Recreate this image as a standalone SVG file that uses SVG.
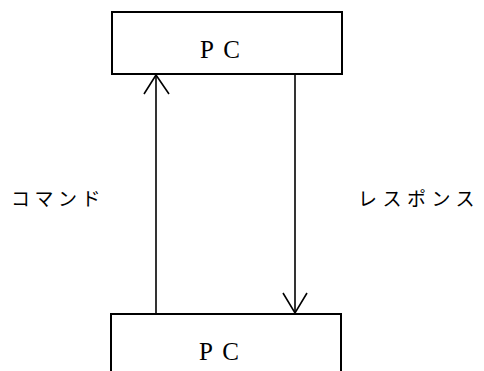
<svg xmlns="http://www.w3.org/2000/svg" width="484" height="371" viewBox="0 0 484 371">
<style>
.box{fill:#fff;stroke:#000;stroke-width:2}
.pc{font-family:"Liberation Serif",serif;font-size:25px;letter-spacing:2px;fill:#000}
.lbl{font-family:"Noto Sans CJK JP",sans-serif;font-size:19px;letter-spacing:4.5px;fill:#000}
.ln{stroke:#000;stroke-width:1.6;fill:none}
</style>
<rect width="484" height="371" fill="#fff"/>
<g id="pc-top">
<rect class="box" x="112" y="12" width="230" height="62"/>
<text class="pc" x="221" y="58" text-anchor="middle">P  C</text>
</g>
<g id="pc-bottom">
<rect class="box" x="111" y="314" width="230" height="70"/>
<text class="pc" x="220" y="360" text-anchor="middle">P  C</text>
</g>
<g id="connectors">
<path class="ln" d="M156 314 V75"/>
<path class="ln" d="M144 94 L156 75 L169 94"/>
<path class="ln" d="M295 74 V313"/>
<path class="ln" d="M283 293 L295 313 L307 293"/>
</g>
<g id="labels">
<text class="lbl" x="11" y="206">コマンド</text>
<text class="lbl" x="358" y="206" style="letter-spacing:5.5px">レスポンス</text>
</g>
</svg>
